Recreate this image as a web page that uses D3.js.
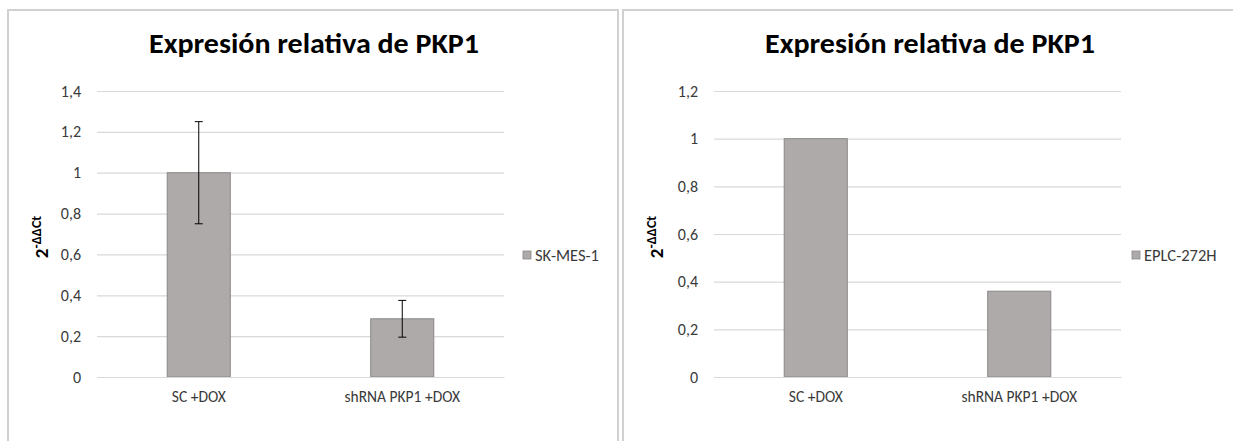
<!DOCTYPE html>
<html>
<head>
<meta charset="utf-8">
<script src="https://cdn.jsdelivr.net/npm/d3@7"></script>
<style>
  html, body { margin: 0; padding: 0; background: #fff; }
  svg { display: block; }
</style>
</head>
<body>
<svg id="chart" width="1233" height="441"></svg>
<script>
// ---- data ----
const categories = ["SC +DOX", "shRNA PKP1 +DOX"];
const chartTitle = "Expresión relativa de PKP1";
const skmesName = "SK-MES-1";
const skmesValues = [1.0, 0.285];
const skmesErrors = [0.25, 0.09];
const skmesTicks = [0, 0.2, 0.4, 0.6, 0.8, 1.0, 1.2, 1.4];
const eplcName = "EPLC-272H";
const eplcValues = [1.0, 0.36];
const eplcTicks = [0, 0.2, 0.4, 0.6, 0.8, 1.0, 1.2];

const FONT = "Carlito, Lato, 'Open Sans', sans-serif";
const TEXT = "#3a3a3a";
const svg = d3.select("#chart");
svg.append("rect").attr("width", 1233).attr("height", 441).attr("fill", "#fff");

const locale = d3.formatLocale({decimal: ",", thousands: ".", grouping: [3], currency: ["", "€"]});
const fmt = locale.format("~g");

function panel(opts) {
  const g = svg.append("g");
  // frame
  g.append("rect")
    .attr("x", opts.frame[0]).attr("y", opts.frame[1])
    .attr("width", opts.frame[2]).attr("height", opts.frame[3])
    .attr("fill", "#fff").attr("stroke", "#d0d0d0").attr("stroke-width", 2);

  const x = d3.scaleBand().domain(categories).range([opts.x0, opts.x1]).padding(0);
  const y = d3.scaleLinear().domain([0, d3.max(opts.ticks)]).range([377, 91]);

  // gridlines
  const grid = g.append("g").attr("transform", `translate(${opts.x0},0)`)
    .call(d3.axisLeft(y).tickValues(opts.ticks).tickSize(-(opts.x1 - opts.x0)).tickFormat(""));
  grid.select(".domain").remove();
  grid.selectAll("line").attr("stroke", "#d9d9d9").attr("stroke-width", 1.2);

  // y tick labels
  const ya = g.append("g").attr("transform", `translate(${opts.labelRight},0)`)
    .call(d3.axisLeft(y).tickValues(opts.ticks).tickSize(0).tickPadding(0).tickFormat(fmt));
  ya.select(".domain").remove();
  ya.selectAll("text").attr("font-family", FONT).attr("font-size", 16).attr("fill", TEXT);

  // bars
  const bw = x.bandwidth() * 0.31;
  g.selectAll(".bar").data(opts.values).join("rect")
    .attr("x", (d, i) => x(categories[i]) + x.bandwidth() / 2 - bw / 2)
    .attr("y", d => y(d))
    .attr("width", bw)
    .attr("height", d => y(0) - y(d))
    .attr("fill", "#aeaaaa").attr("stroke", "#8c8888").attr("stroke-width", 1);

  // baseline + category labels
  const xa = g.append("g").attr("transform", "translate(0,377)")
    .call(d3.axisBottom(x).tickSize(0).tickPadding(14));
  xa.select(".domain").attr("stroke", "#d9d9d9").attr("stroke-width", 1.2);
  xa.selectAll("text").attr("font-family", FONT).attr("font-size", 15.5).attr("fill", TEXT);

  // error bars
  if (opts.errors) {
    const eg = g.selectAll(".err").data(opts.values).join("g");
    eg.append("line")
      .attr("x1", (d, i) => x(categories[i]) + x.bandwidth() / 2)
      .attr("x2", (d, i) => x(categories[i]) + x.bandwidth() / 2)
      .attr("y1", (d, i) => y(d + opts.errors[i]))
      .attr("y2", (d, i) => y(d - opts.errors[i]))
      .attr("stroke", "#000").attr("stroke-width", 1);
    [1, -1].forEach(s => {
      eg.append("line")
        .attr("x1", (d, i) => x(categories[i]) + x.bandwidth() / 2 - 4)
        .attr("x2", (d, i) => x(categories[i]) + x.bandwidth() / 2 + 4)
        .attr("y1", (d, i) => y(d + s * opts.errors[i]))
        .attr("y2", (d, i) => y(d + s * opts.errors[i]))
        .attr("stroke", "#000").attr("stroke-width", 1);
    });
  }

  // title
  g.append("text").attr("x", opts.titleX).attr("y", 53)
    .attr("text-anchor", "middle")
    .attr("font-family", FONT).attr("font-weight", "bold").attr("font-size", 28)
    .attr("textLength", 330).attr("lengthAdjust", "spacingAndGlyphs")
    .attr("fill", "#000").text(chartTitle);

  // y axis title
  const yt = g.append("text")
    .attr("transform", `translate(${opts.yTitleX},237) rotate(-90)`)
    .attr("text-anchor", "middle")
    .attr("font-family", FONT).attr("font-weight", "bold").attr("fill", "#000");
  yt.append("tspan").attr("font-size", 19).text("2");
  yt.append("tspan").attr("font-size", 14).attr("dy", -7).text("-ΔΔCt");

  // legend
  g.append("rect").attr("x", opts.legendX).attr("y", 251).attr("width", 8).attr("height", 8)
    .attr("fill", "#aeaaaa").attr("stroke", "#8c8888").attr("stroke-width", 0.8);
  g.append("text").attr("x", opts.legendX + 12).attr("y", 261)
    .attr("font-family", FONT).attr("font-size", 16.5).attr("fill", TEXT)
    .text(opts.name);
}

panel({
  frame: [8, 10, 610, 500], x0: 97, x1: 504, labelRight: 81, titleX: 314, yTitleX: 48,
  values: skmesValues, errors: skmesErrors, ticks: skmesTicks, legendX: 523, name: skmesName
});
panel({
  frame: [623, 10, 700, 500], x0: 714, x1: 1121, labelRight: 698, titleX: 930, yTitleX: 663,
  values: eplcValues, errors: null, ticks: eplcTicks, legendX: 1132, name: eplcName
});
</script>
</body>
</html>
